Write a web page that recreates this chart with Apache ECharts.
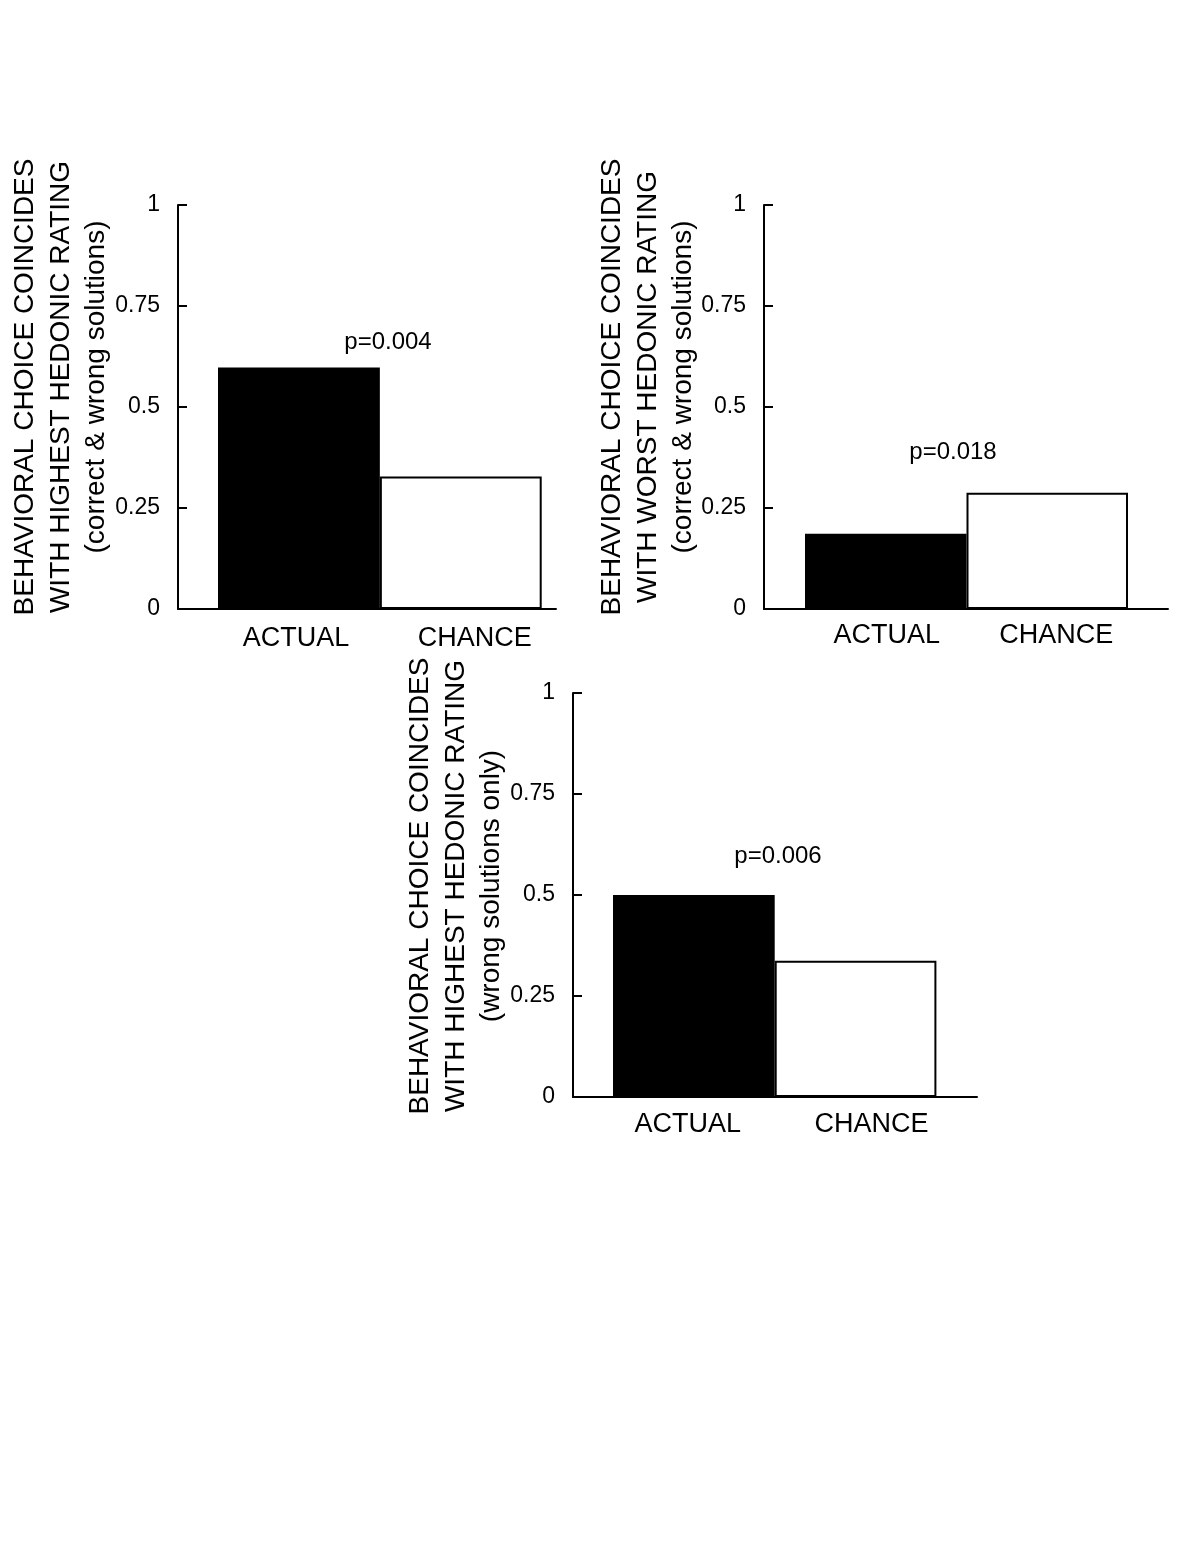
<!DOCTYPE html>
<html>
<head>
<meta charset="utf-8">
<script src="https://cdn.jsdelivr.net/npm/echarts@6/dist/echarts.min.js"></script>
<style>
html,body{margin:0;padding:0;background:#fff;}
#chart{width:1197px;height:1549px;}
</style>
</head>
<body>
<div id="chart"></div>
<script>
// ---- data ----
const categories = ['ACTUAL', 'CHANCE'];
const panel1Values = [0.598, 0.328];
const panel2Values = [0.186, 0.288];
const panel3Values = [0.5, 0.337];
const yTickLabels = ['0', '0.25', '0.5', '0.75', '1'];
const panel1Title = ['BEHAVIORAL CHOICE COINCIDES', 'WITH HIGHEST HEDONIC RATING', '(correct & wrong solutions)'];
const panel2Title = ['BEHAVIORAL CHOICE COINCIDES', 'WITH WORST HEDONIC RATING', '(correct & wrong solutions)'];
const panel3Title = ['BEHAVIORAL CHOICE COINCIDES', 'WITH HIGHEST HEDONIC RATING', '(wrong solutions only)'];
const pLabels = ['p=0.004', 'p=0.018', 'p=0.006'];

// ---- layout / style ----
const FONT = '"Liberation Sans", Arial, Helvetica, sans-serif';
const panels = [
  { axisGrid: {left: 178, top: 205, width: 378, height: 404},
    barGrid:  {left: 218, top: 205, width: 323.7, height: 404},
    values: panel1Values, title: panel1Title, titlePos: [61, 387],
    p: pLabels[0], pPos: [388, 342], shift: [-3, 14], labelMargin: 16 },
  { axisGrid: {left: 764, top: 205, width: 404, height: 404},
    barGrid:  {left: 805, top: 205, width: 323, height: 404},
    values: panel2Values, title: panel2Title, titlePos: [648, 387],
    p: pLabels[1], pPos: [953, 452], shift: [1, 9], labelMargin: 13 },
  { axisGrid: {left: 573, top: 693, width: 404, height: 404},
    barGrid:  {left: 613, top: 693, width: 323.4, height: 404},
    values: panel3Values, title: panel3Title, titlePos: [456, 886],
    p: pLabels[2], pPos: [778, 856], shift: [-6, 16], labelMargin: 14 }
];

function pad(s) { return s >= 0 ? [0, 0, 0, 2 * s] : [0, -2 * s, 0, 0]; }

const grid = [], xAxis = [], yAxis = [], series = [], graphic = [];
panels.forEach((p, i) => {
  const ga = grid.length;
  grid.push(Object.assign({containLabel: false}, p.axisGrid));
  const gb = grid.length;
  grid.push(Object.assign({containLabel: false}, p.barGrid));

  // axis frame grid
  xAxis.push({
    gridIndex: ga, type: 'value', min: 0, max: 1,
    axisLine: {show: true, onZero: false, lineStyle: {color: '#000', width: 2}},
    axisTick: {show: false}, axisLabel: {show: false}, splitLine: {show: false}
  });
  yAxis.push({
    gridIndex: ga, type: 'value', min: 0, max: 1, interval: 0.25,
    axisLine: {show: true, onZero: false, lineStyle: {color: '#000', width: 2}},
    axisTick: {show: true, inside: true, length: 9, lineStyle: {color: '#000', width: 2}},
    axisLabel: {show: true, margin: 18, color: '#000', fontSize: 23, fontFamily: FONT,
      formatter: v => yTickLabels[Math.round(v / 0.25)]},
    splitLine: {show: false}
  });
  // bar grid
  const rich = {
    a: {fontSize: 27, fontFamily: FONT, color: '#000', padding: pad(p.shift[0])},
    c: {fontSize: 27, fontFamily: FONT, color: '#000', padding: pad(p.shift[1])}
  };
  xAxis.push({
    gridIndex: gb, type: 'category', data: categories, boundaryGap: true,
    axisLine: {show: false}, axisTick: {show: false}, splitLine: {show: false},
    axisLabel: {show: true, interval: 0, margin: p.labelMargin,
      formatter: v => (v === categories[0] ? '{a|' + v + '}' : '{c|' + v + '}'), rich: rich}
  });
  yAxis.push({gridIndex: gb, type: 'value', min: 0, max: 1, show: false});
  series.push({
    type: 'bar', xAxisIndex: gb, yAxisIndex: gb, barWidth: '100%', barGap: '0%',
    animation: false, silent: true,
    data: p.values.map((v, k) => ({
      value: v,
      itemStyle: k === 0
        ? {color: '#000', borderColor: '#000', borderWidth: 2}
        : {color: '#fff', borderColor: '#000', borderWidth: 2}
    }))
  });

  graphic.push({
    type: 'text', x: p.titlePos[0], y: p.titlePos[1], rotation: Math.PI / 2,
    style: {text: p.title.join('\n'), align: 'center', verticalAlign: 'middle',
      font: '28px ' + FONT, lineHeight: 35.5, fill: '#000'}
  });
  graphic.push({
    type: 'text', x: p.pPos[0], y: p.pPos[1],
    style: {text: p.p, align: 'center', verticalAlign: 'middle',
      font: '24px ' + FONT, fill: '#000'}
  });
});

const chart = echarts.init(document.getElementById('chart'), null, {renderer: 'canvas'});
chart.setOption({
  backgroundColor: '#fff',
  animation: false,
  grid, xAxis, yAxis, series, graphic
});
</script>
</body>
</html>
